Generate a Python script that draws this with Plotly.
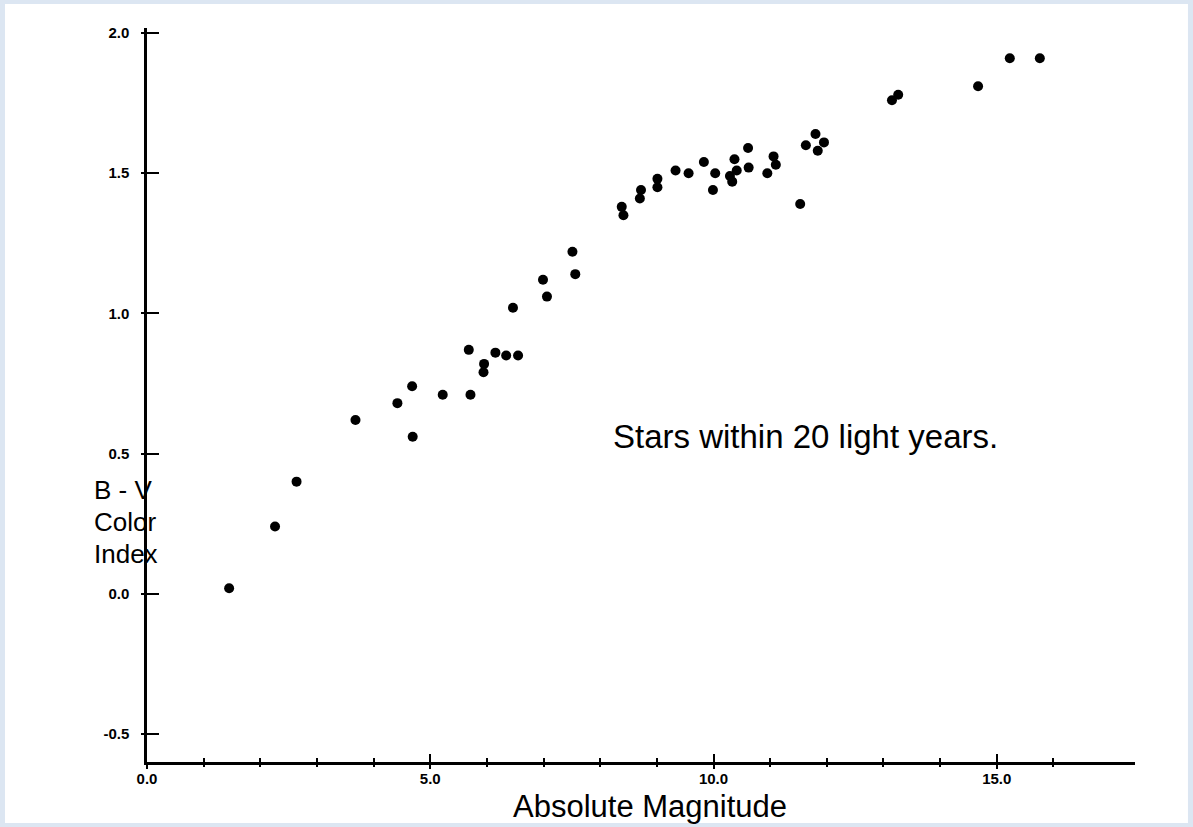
import plotly.graph_objects as go

# Absolute magnitude (x) and B - V colour index (y) of stars within 20 light years
abs_mag = [1.45, 2.26, 2.64, 3.68, 4.42, 4.68, 4.69, 5.22, 5.68, 5.71,
           5.95, 5.94, 6.15, 6.34, 6.55, 6.46, 6.99, 7.06, 7.51, 7.56,
           8.38, 8.41, 8.72, 8.70, 9.01, 9.01, 9.33, 9.56, 9.83, 10.03,
           9.99, 10.29, 10.33, 10.41, 10.37, 10.61, 10.62, 10.95, 11.06, 11.10,
           11.53, 11.63, 11.80, 11.95, 11.84, 13.15, 13.26, 14.67, 15.23, 15.76]
bv_index = [0.02, 0.24, 0.40, 0.62, 0.68, 0.74, 0.56, 0.71, 0.87, 0.71,
            0.82, 0.79, 0.86, 0.85, 0.85, 1.02, 1.12, 1.06, 1.22, 1.14,
            1.38, 1.35, 1.44, 1.41, 1.48, 1.45, 1.51, 1.50, 1.54, 1.50,
            1.44, 1.49, 1.47, 1.51, 1.55, 1.59, 1.52, 1.50, 1.56, 1.53,
            1.39, 1.60, 1.64, 1.61, 1.58, 1.76, 1.78, 1.81, 1.91, 1.91]

x_tickvals = [0, 5, 10, 15]
x_ticktext = ["0.0", "5.0", "10.0", "15.0"]
x_minorvals = [1, 2, 3, 4, 6, 7, 8, 9, 11, 12, 13, 14, 16]
y_tickvals = [-0.5, 0.0, 0.5, 1.0, 1.5, 2.0]
y_ticktext = ["-0.5", "0.0", "0.5", "1.0", "1.5", "2.0"]

x_range = [0, 17.44]
y_range = [-0.6, 2.018]

FONT = "Liberation Sans, Arial, Helvetica, sans-serif"
tickfont = dict(family=FONT, size=15, color="black", weight="bold")

fig = go.Figure()
fig.add_trace(go.Scatter(
    x=abs_mag, y=bv_index, mode="markers",
    marker=dict(size=10, color="black", line=dict(width=0)),
    showlegend=False, hoverinfo="x+y",
))
# invisible copy to bring the overlay axes (other tick halves) to life
fig.add_trace(go.Scatter(
    x=abs_mag, y=bv_index, mode="markers", xaxis="x2", yaxis="y2",
    marker=dict(size=1, opacity=0), showlegend=False, hoverinfo="skip",
))

fig.update_layout(
    width=1193, height=827,
    margin=dict(l=147, r=58, t=28, b=65),
    paper_bgcolor="#dce6f2",
    plot_bgcolor="white",
    xaxis=dict(
        range=x_range, showgrid=False, zeroline=False,
        showline=True, linewidth=2.5, linecolor="black",
        tickmode="array", tickvals=x_tickvals, ticktext=x_ticktext,
        ticks="inside", ticklen=8, tickwidth=2, tickcolor="black",
        tickfont=tickfont, ticklabelstandoff=1,
        minor=dict(tickmode="array", tickvals=x_minorvals, ticks="inside",
                   ticklen=4, tickwidth=1.5, tickcolor="black"),
    ),
    yaxis=dict(
        range=y_range, showgrid=False, zeroline=False,
        showline=True, linewidth=2.5, linecolor="black",
        tickmode="array", tickvals=y_tickvals, ticktext=y_ticktext,
        ticks="inside", ticklen=12, tickwidth=2, tickcolor="black",
        tickfont=tickfont, ticklabelstandoff=12,
    ),
    xaxis2=dict(
        range=x_range, overlaying="x", anchor="y2", showgrid=False,
        zeroline=False, showline=False, showticklabels=False,
        tickmode="array", tickvals=x_tickvals,
        ticks="outside", ticklen=6, tickwidth=2, tickcolor="black",
        minor=dict(tickmode="array", tickvals=x_minorvals, ticks="outside",
                   ticklen=4, tickwidth=1.5, tickcolor="black"),
    ),
    yaxis2=dict(
        range=y_range, overlaying="y", anchor="x2", showgrid=False,
        zeroline=False, showline=False, showticklabels=False,
        tickmode="array", tickvals=y_tickvals,
        ticks="outside", ticklen=5, tickwidth=2, tickcolor="black",
    ),
    shapes=[dict(type="rect", xref="paper", yref="paper",
                 x0=-0.1437, x1=1.0536, y0=-0.0831, y1=1.0327,
                 fillcolor="white", line=dict(width=0), layer="below")],
    annotations=[
        dict(text="Stars within 20 light years.", x=11.63, y=0.56,
             xref="x", yref="y", showarrow=False,
             font=dict(family=FONT, size=33, color="black")),
        dict(text="Absolute Magnitude", x=8.88, y=-0.0872,
             xref="x", yref="paper", showarrow=False, yanchor="bottom",
             font=dict(family=FONT, size=31, color="black")),
        dict(text="B - V", x=-0.0557, y=0.371, xref="paper", yref="y",
             showarrow=False, font=dict(family=FONT, size=26, color="black")),
        dict(text="Color", x=-0.0557, y=0.257, xref="paper", yref="y",
             showarrow=False, font=dict(family=FONT, size=26, color="black")),
        dict(text="Index", x=-0.0557, y=0.143, xref="paper", yref="y",
             showarrow=False, font=dict(family=FONT, size=26, color="black")),
    ],
)

fig.write_html("out.html")
